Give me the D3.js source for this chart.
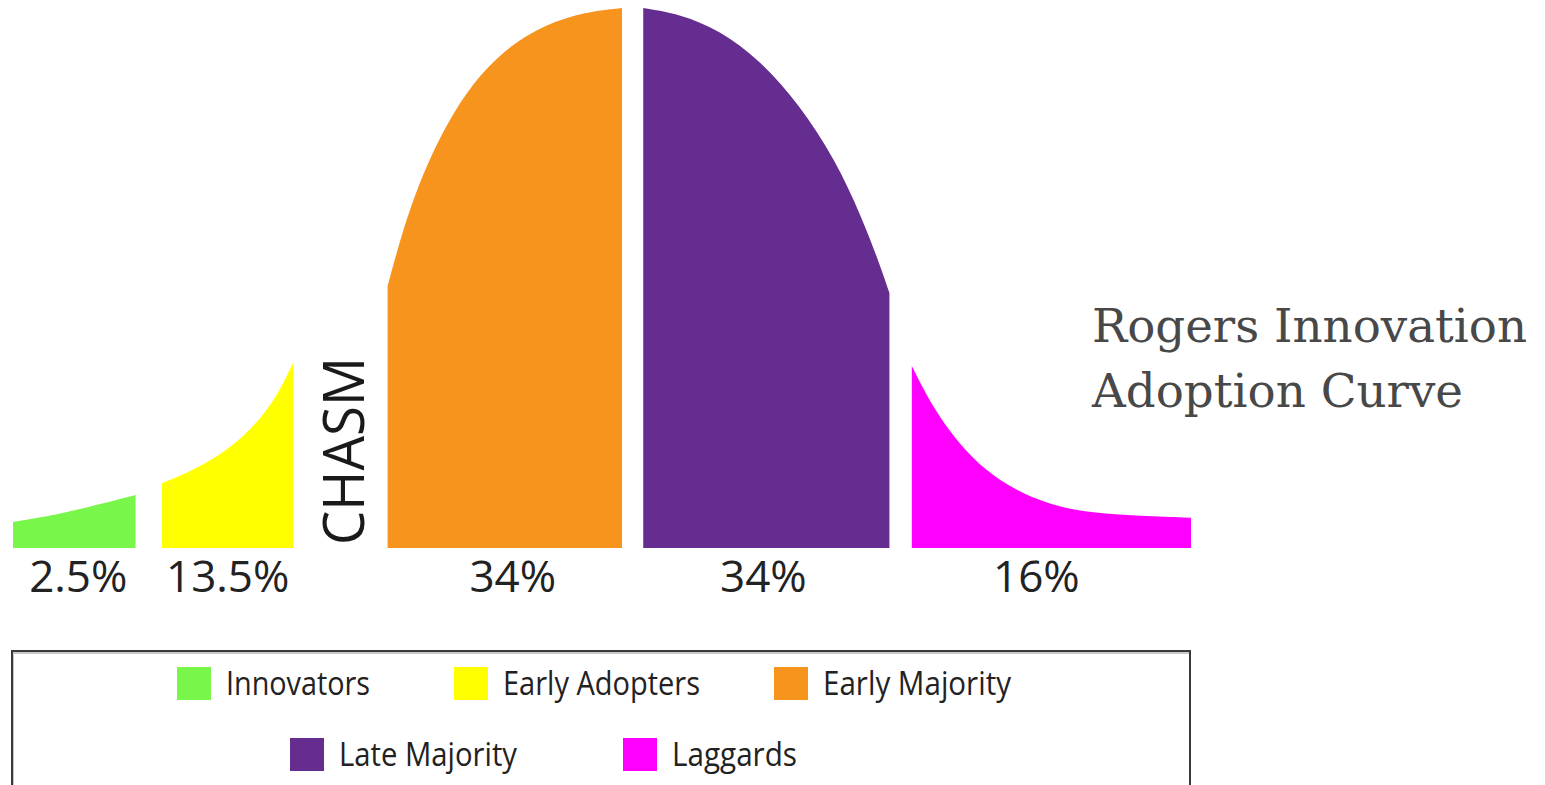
<!doctype html>
<html>
<head>
  <meta charset="utf-8">
  <title>Rogers Innovation Adoption Curve</title>
  <script src="https://cdn.jsdelivr.net/npm/d3@7"></script>
  <style>
    body { margin: 0; background: #fff; }
    svg { display: block; }
  </style>
</head>
<body>
<div id="chart"></div>
<script>
  // adopter groups, in curve order
  var groups = ["Innovators", "Early Adopters", "Early Majority", "Late Majority", "Laggards"];
  var shares = ["2.5%", "13.5%", "34%", "34%", "16%"];
  var colors = ["#78f74a", "#ffff00", "#f7941e", "#662d91", "#ff00ff"];

  // curve: [position 0-100 along the axis, height 0-100 of peak]
  var innovatorsCurve = [[0, 4.8], [3.1, 5.9], [6.5, 7.6], [10.4, 9.8]];
  var earlyAdoptersCurve = [[12.65, 12.0], [15.0, 14.1], [17.6, 17.2], [19.7, 20.9], [21.4, 25.0],
                            [22.7, 29.3], [23.8, 34.4]];
  var earlyMajorityCurve = [[31.8, 48.5], [32.85, 57.0], [34.1, 65.4], [35.65, 73.5], [37.5, 81.1],
                            [39.6, 87.6], [42.2, 93.1], [45.2, 97.0], [48.6, 99.3], [51.7, 100]];
  var lateMajorityCurve = [[53.5, 100], [56.6, 98.9], [60.0, 95.9], [63.4, 90.4], [66.8, 82.0],
                           [69.8, 71.9], [72.0, 61.5], [73.6, 52.4], [74.4, 47.2]];
  var laggardsCurve = [[76.3, 33.7], [77.4, 28.9], [78.7, 24.1], [80.4, 19.1], [82.5, 14.4],
                       [85.1, 10.7], [88.0, 8.0], [91.4, 6.5], [95.7, 5.9], [100, 5.6]];

  var curves = [innovatorsCurve, earlyAdoptersCurve, earlyMajorityCurve, lateMajorityCurve, laggardsCurve];

  var width = 1545, height = 785;

  var svg = d3.select("#chart").append("svg")
      .attr("width", width)
      .attr("height", height);

  var x = d3.scaleLinear().domain([0, 100]).range([13, 1191]);
  var y = d3.scaleLinear().domain([0, 100]).range([548, 8]);

  var area = d3.area()
      .x(function(d) { return x(d[0]); })
      .y0(y(0))
      .y1(function(d) { return y(d[1]); })
      .curve(d3.curveBasis);

  svg.selectAll("path.segment")
      .data(curves)
      .enter().append("path")
      .attr("class", "segment")
      .attr("d", area)
      .attr("fill", function(d, i) { return colors[i]; });

  // percent under each segment (small nudges so they sit as in the original)
  var shareNudge = [4, 0, 8, -3, -15];
  svg.selectAll("text.share")
      .data(curves)
      .enter().append("text")
      .attr("class", "share")
      .attr("x", function(d, i) { return x((d[0][0] + d[d.length - 1][0]) / 2) + shareNudge[i]; })
      .attr("y", 592)
      .attr("text-anchor", "middle")
      .attr("font-family", "'Open Sans', sans-serif")
      .attr("font-size", 44)
      .attr("fill", "#222")
      .text(function(d, i) { return shares[i]; });

  // chasm between early adopters and early majority
  var chasmX = (x(earlyAdoptersCurve[earlyAdoptersCurve.length - 1][0]) + x(earlyMajorityCurve[0][0])) / 2;
  svg.append("text")
      .attr("transform", "translate(" + (chasmX + 24) + ",451) rotate(-90)")
      .attr("text-anchor", "middle")
      .attr("font-family", "'Open Sans', sans-serif")
      .attr("font-size", 57)
      .attr("textLength", 188)
      .attr("lengthAdjust", "spacingAndGlyphs")
      .attr("fill", "#1a1a1a")
      .text("CHASM");

  // title
  var title = svg.append("g").attr("font-family", "'DejaVu Serif', Georgia, serif")
      .attr("font-size", 47).attr("fill", "#484848");
  title.append("text").attr("x", 1092).attr("y", 342)
      .attr("textLength", 435).attr("lengthAdjust", "spacingAndGlyphs")
      .text("Rogers Innovation");
  title.append("text").attr("x", 1092).attr("y", 407)
      .attr("textLength", 371).attr("lengthAdjust", "spacingAndGlyphs")
      .text("Adoption Curve");

  // legend
  svg.append("rect")
      .attr("x", 13).attr("y", 653)
      .attr("width", 1177).attr("height", 160)
      .attr("fill", "none").attr("stroke", "#c8c8c8").attr("stroke-width", 2);
  svg.append("rect")
      .attr("x", 12).attr("y", 651)
      .attr("width", 1178).attr("height", 160)
      .attr("fill", "none").attr("stroke", "#3a3a3a").attr("stroke-width", 2);

  var legendPos = [[177, 667], [454, 667], [774, 667], [290, 738], [623, 738]];
  var legendTextW = [144, 197, 188, 178, 125];

  var item = svg.selectAll("g.legend")
      .data(groups)
      .enter().append("g")
      .attr("class", "legend")
      .attr("transform", function(d, i) { return "translate(" + legendPos[i][0] + "," + legendPos[i][1] + ")"; });

  item.append("rect")
      .attr("width", 34).attr("height", 33)
      .attr("fill", function(d, i) { return colors[i]; });

  item.append("text")
      .attr("x", 49).attr("y", 28)
      .attr("font-family", "'Open Sans', sans-serif")
      .attr("font-size", 32)
      .attr("fill", "#222")
      .attr("textLength", function(d, i) { return legendTextW[i]; })
      .attr("lengthAdjust", "spacingAndGlyphs")
      .text(function(d) { return d; });
</script>
</body>
</html>
